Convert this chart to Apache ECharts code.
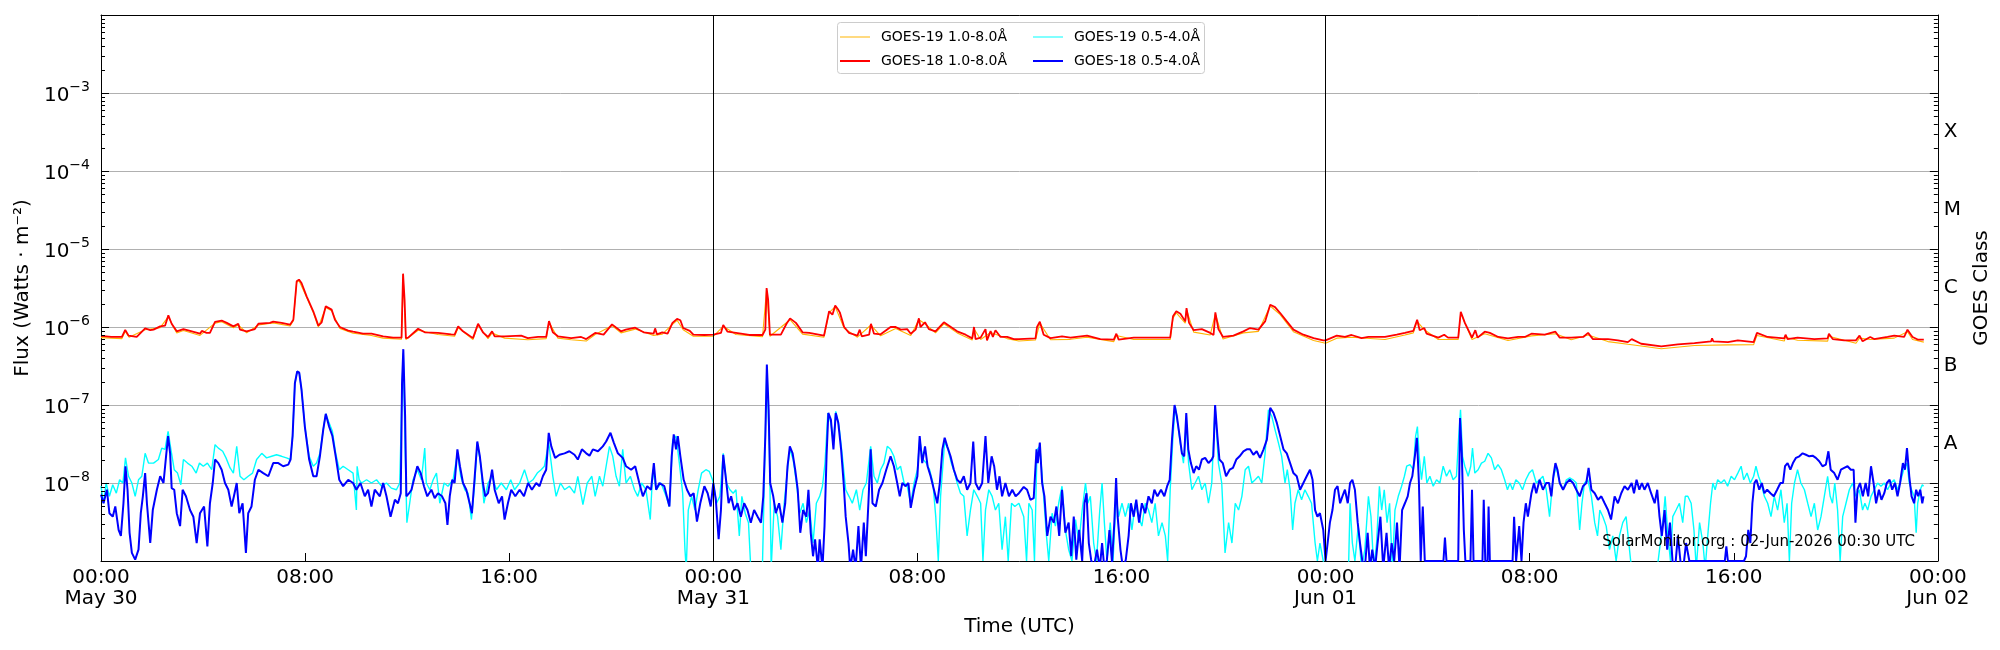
<!DOCTYPE html>
<html>
<head>
<meta charset="utf-8">
<script src="https://cdn.jsdelivr.net/npm/echarts@6/dist/echarts.min.js"></script>
<style>
html,body{margin:0;padding:0;background:#fff;}
#chart{width:2000px;height:650px;}
</style>
</head>
<body>
<div id="chart"></div>
<script>
// hours since 00:00 May 30 (UTC), flux in W m^-2
var dayLabels = ['May 30', 'May 31', 'Jun 01', 'Jun 02'];
var classLabels = ['A', 'B', 'C', 'M', 'X'];
var dayLines = [24, 48];

var goes19Long = [
[0,7.3e-7],[0.82,7.1e-7],[0.95,8.8e-7],[1.1,7.4e-7],[1.73,9.2e-7],[2.32,9.8e-7],[2.64,1.36e-6],[2.8,1.05e-6],[2.97,8.4e-7],[3.23,9.0e-7],[3.88,7.8e-7],[4.47,1.12e-6],[4.73,1.17e-6],[5.19,9.8e-7],[5.38,1.06e-6],[5.71,8.4e-7],[6.17,1.06e-6],[6.75,1.13e-6],[7.41,1.03e-6],[7.54,1.2e-6],[7.67,3.75e-6],[7.76,3.95e-6],[8.06,2.4e-6],[8.32,1.53e-6],[8.52,1.0e-6],[8.81,1.78e-6],[9.04,1.62e-6],[9.36,9.6e-7],[9.88,8.3e-7],[10.6,7.8e-7],[11.06,7.2e-7],[11.78,6.95e-7],[11.84,4.7e-6],[11.95,6.9e-7],
[12.43,9.1e-7],[13.21,8.0e-7],[13.86,7.6e-7],[14.0,9.8e-7],[14.58,6.9e-7],[14.78,1.06e-6],[15.17,7.1e-7],[15.33,8.4e-7],[15.82,7.2e-7],[16.73,6.85e-7],[17.45,7.1e-7],[17.56,1.15e-6],[17.91,7.2e-7],[18.43,6.85e-7],[19.02,6.6e-7],[19.37,8.0e-7],[20.03,1.04e-6],[20.38,8.4e-7],[20.94,9.4e-7],[21.66,7.8e-7],[22.0,8.1e-7],[22.4,1.08e-6],[22.58,1.22e-6],[22.82,9.2e-7],[23.22,7.6e-7],
[24.0,7.6e-7],[24.39,1.02e-6],[24.89,8.0e-7],[25.93,7.5e-7],[26.09,3.05e-6],[26.22,7.6e-7],[27.01,1.24e-6],[27.5,8.1e-7],[28.34,7.4e-7],[28.54,1.53e-6],[28.78,1.82e-6],[29.13,9.6e-7],[29.65,7.4e-7],[30.18,1.06e-6],[30.56,7.7e-7],[31.15,9.6e-7],[31.74,7.8e-7],[32.06,1.24e-6],[32.3,1.1e-6],[32.71,8.4e-7],[33.04,1.1e-6],[33.56,8.4e-7],[34.15,6.8e-7],[34.22,9.5e-7],[34.48,6.9e-7],[34.87,8.5e-7],[35.52,7.1e-7],
[35.98,6.6e-7],[36.63,6.8e-7],[36.8,1.12e-6],[37.22,6.85e-7],[38.0,6.95e-7],[38.65,7.4e-7],[39.7,6.5e-7],[39.8,7.8e-7],[40.48,6.9e-7],[41.91,6.9e-7],[42.02,1.3e-6],[42.15,1.52e-6],[42.5,1.12e-6],[42.55,1.68e-6],[42.83,8.6e-7],[43.48,7.9e-7],[43.68,1.47e-6],[43.98,7.0e-7],[44.78,8.4e-7],[45.37,8.8e-7],[45.83,1.86e-6],[46.22,1.44e-6],[46.74,8.7e-7],[47.53,6.7e-7],
[48.0,6.2e-7],[48.44,7.2e-7],[49.02,7.4e-7],[50.33,6.9e-7],[51.11,7.9e-7],[51.44,8.4e-7],[51.59,1.18e-6],[51.87,9.2e-7],[52.42,6.9e-7],[53.2,6.9e-7],[53.3,1.5e-6],[53.74,6.9e-7],[54.24,8.2e-7],[55.15,6.7e-7],[56.07,7.7e-7],[57.01,8.2e-7],[57.63,6.85e-7],[58.29,7.9e-7],[59.07,6.5e-7],[59.85,6.0e-7],
[60.37,5.7e-7],[61.16,5.25e-7],[62.46,5.8e-7],[63.77,5.9e-7],[64.78,5.95e-7],[64.91,7.8e-7],[65.98,6.6e-7],[66.03,7.4e-7],[66.5,6.75e-7],[67.68,6.6e-7],[67.73,7.6e-7],[68.79,6.2e-7],[68.93,7.2e-7],[69.35,6.9e-7],[70.29,7.2e-7],[70.81,8.7e-7],[71.01,6.9e-7],[71.45,6.4e-7]
];

var goes18Long = [
[0,7.7e-7],[0.4,7.45e-7],[0.82,7.45e-7],[0.95,9.2e-7],[1.08,7.75e-7],[1.4,7.45e-7],[1.73,9.6e-7],[1.93,9.1e-7],[2.06,9.25e-7],[2.32,1.02e-6],[2.51,1.04e-6],[2.64,1.41e-6],[2.77,1.1e-6],[2.97,8.8e-7],[3.23,9.4e-7],[3.49,8.9e-7],[3.88,8.2e-7],[3.95,8.9e-7],[4.14,8.4e-7],[4.27,8.4e-7],[4.47,1.16e-6],[4.73,1.21e-6],[4.93,1.13e-6],[5.19,1.02e-6],[5.38,1.1e-6],[5.45,9.25e-7],[5.71,8.8e-7],[6.03,9.4e-7],[6.17,1.1e-6],[6.62,1.13e-6],[6.75,1.17e-6],[7.08,1.13e-6],[7.41,1.07e-6],[7.54,1.24e-6],[7.67,3.85e-6],[7.76,4.05e-6],[7.86,3.66e-6],[8.06,2.47e-6],[8.32,1.59e-6],[8.52,1.04e-6],[8.65,1.15e-6],[8.81,1.84e-6],[9.04,1.67e-6],[9.17,1.24e-6],[9.36,1.0e-6],[9.69,8.97e-7],[9.88,8.7e-7],[10.27,8.2e-7],[10.6,8.2e-7],[10.67,7.9e-7],[11.06,7.6e-7],[11.45,7.3e-7],[11.78,7.3e-7],[11.84,4.83e-6],[11.9,2.24e-6],[11.95,7.2e-7],[12.04,7.3e-7],
[12.43,9.5e-7],[12.69,8.55e-7],[13.21,8.4e-7],[13.73,8.05e-7],[13.86,7.97e-7],[14.0,1.02e-6],[14.19,8.8e-7],[14.58,7.2e-7],[14.78,1.1e-6],[14.97,8.55e-7],[15.17,7.45e-7],[15.33,8.8e-7],[15.43,7.6e-7],[15.82,7.6e-7],[16.47,7.75e-7],[16.73,7.2e-7],[17.13,7.45e-7],[17.45,7.45e-7],[17.56,1.19e-6],[17.71,8.55e-7],[17.91,7.6e-7],[18.43,7.2e-7],[18.82,7.45e-7],[19.02,7.0e-7],[19.37,8.4e-7],[19.7,7.97e-7],[20.03,1.08e-6],[20.38,8.8e-7],[20.57,9.25e-7],[20.94,9.8e-7],[21.27,8.55e-7],[21.66,8.2e-7],[21.72,9.6e-7],[21.79,8.05e-7],[22.0,8.55e-7],[22.21,8.2e-7],[22.4,1.13e-6],[22.58,1.27e-6],[22.71,1.22e-6],[22.82,9.7e-7],[23.08,8.9e-7],[23.22,7.97e-7],[23.65,7.9e-7],[24.0,7.97e-7],
[24.3,8.4e-7],[24.39,1.06e-6],[24.56,8.7e-7],[24.89,8.4e-7],[25.41,7.9e-7],[25.93,7.9e-7],[26.04,9.25e-7],[26.09,3.16e-6],[26.15,2.24e-6],[26.22,7.97e-7],[26.65,7.97e-7],[26.87,1.1e-6],[27.01,1.29e-6],[27.24,1.13e-6],[27.5,8.55e-7],[27.76,8.4e-7],[28.34,7.75e-7],[28.54,1.59e-6],[28.67,1.44e-6],[28.78,1.88e-6],[28.88,1.7e-6],[28.96,1.54e-6],[29.13,1.0e-6],[29.32,8.4e-7],[29.65,7.75e-7],[29.74,9.25e-7],[29.82,7.6e-7],[30.11,7.97e-7],[30.18,1.1e-6],[30.3,8.2e-7],[30.56,8.05e-7],[30.95,1.0e-6],[31.15,1.0e-6],[31.35,9.25e-7],[31.6,9.4e-7],[31.74,8.2e-7],[31.93,9.25e-7],[32.06,1.29e-6],[32.12,1.0e-6],[32.3,1.15e-6],[32.45,9.4e-7],[32.71,8.8e-7],[33.04,1.15e-6],[33.24,1.04e-6],[33.56,8.8e-7],[33.89,7.97e-7],[34.15,7.15e-7],[34.22,1.0e-6],[34.28,7.0e-7],[34.48,7.3e-7],[34.67,9.4e-7],[34.73,6.75e-7],[34.87,8.9e-7],[34.96,7.45e-7],[35.06,9.1e-7],[35.26,7.45e-7],[35.52,7.45e-7],[35.78,7.0e-7],[35.98,7.0e-7],
[36.63,7.15e-7],[36.69,1.0e-6],[36.8,1.17e-6],[36.95,7.97e-7],[37.22,7.2e-7],[37.67,7.6e-7],[38.0,7.3e-7],[38.65,7.75e-7],[39.17,7.0e-7],[39.7,6.9e-7],[39.8,8.2e-7],[39.89,6.9e-7],[40.48,7.3e-7],[41.13,7.3e-7],[41.91,7.3e-7],[42.02,1.37e-6],[42.15,1.59e-6],[42.31,1.48e-6],[42.5,1.18e-6],[42.55,1.75e-6],[42.65,1.13e-6],[42.83,9.1e-7],[43.15,9.4e-7],[43.48,8.4e-7],[43.61,7.9e-7],[43.68,1.54e-6],[43.8,9.4e-7],[43.98,7.45e-7],[44.39,7.75e-7],[44.78,8.8e-7],[45.04,9.7e-7],[45.37,9.25e-7],[45.63,1.18e-6],[45.83,1.93e-6],[46.02,1.8e-6],[46.22,1.51e-6],[46.48,1.18e-6],[46.74,9.25e-7],[47.13,7.97e-7],[47.53,7.2e-7],[47.91,6.75e-7],
[48.0,6.75e-7],[48.44,7.75e-7],[48.76,7.45e-7],[49.02,7.9e-7],[49.41,7.2e-7],[49.68,7.45e-7],[50.33,7.45e-7],[50.79,7.97e-7],[51.11,8.4e-7],[51.44,8.9e-7],[51.59,1.24e-6],[51.69,9.1e-7],[51.87,9.7e-7],[51.96,8.2e-7],[52.42,7.3e-7],[52.65,7.97e-7],[52.8,7.3e-7],[53.2,7.3e-7],[53.3,1.57e-6],[53.46,1.13e-6],[53.74,7.3e-7],[53.87,9.1e-7],[53.96,7.3e-7],[54.24,8.7e-7],[54.44,8.4e-7],[54.77,7.45e-7],[55.15,7.15e-7],[55.55,7.45e-7],[55.81,7.45e-7],[56.07,8.2e-7],[56.59,7.97e-7],[57.01,8.7e-7],[57.18,7.3e-7],[57.63,7.3e-7],[58.1,7.45e-7],[58.29,8.4e-7],[58.48,7.0e-7],[59.07,7.0e-7],[59.46,6.75e-7],[59.85,6.4e-7],
[60.0,7.0e-7],[60.37,6.1e-7],[61.16,5.65e-7],[61.81,6.0e-7],[62.46,6.2e-7],[63.11,6.55e-7],[63.15,7.15e-7],[63.2,6.55e-7],[63.77,6.4e-7],[64.16,6.75e-7],[64.78,6.4e-7],[64.91,8.4e-7],[65.33,7.45e-7],[65.98,7.15e-7],[66.03,7.97e-7],[66.11,7.0e-7],[66.5,7.3e-7],[67.16,7.0e-7],[67.68,7.15e-7],[67.73,8.2e-7],[67.88,7.0e-7],[68.33,6.75e-7],[68.79,6.75e-7],[68.93,7.75e-7],[69.05,6.55e-7],[69.35,7.45e-7],[69.5,7.0e-7],[70.03,7.45e-7],[70.29,7.75e-7],[70.68,7.45e-7],[70.81,9.25e-7],[71.01,7.45e-7],[71.21,6.9e-7],[71.45,6.9e-7]
];

var goes19Short = [
[0.0,9.1e-9],[0.1,5.5e-9],[0.2,1.0e-8],[0.33,6.75e-9],[0.46,9.5e-9],[0.6,7.4e-9],[0.73,1.1e-8],[0.86,1.0e-8],[0.96,2.1e-8],[1.08,1.22e-8],[1.21,1.0e-8],[1.34,6.75e-9],[1.47,1.1e-8],[1.6,1.22e-8],[1.73,2.4e-8],[1.86,1.8e-8],[2.06,1.8e-8],[2.25,2.0e-8],[2.38,2.8e-8],[2.51,2.7e-8],[2.63,4.6e-8],[2.74,2.7e-8],[2.87,1.48e-8],[3.0,1.34e-8],[3.13,9.5e-9],[3.23,2.0e-8],[3.39,1.8e-8],[3.56,1.64e-8],[3.73,1.34e-8],[3.86,1.8e-8],[4.01,1.64e-8],[4.17,1.8e-8],[4.34,1.48e-8],[4.47,3.1e-8],[4.6,2.8e-8],[4.77,2.55e-8],[4.9,2.1e-8],[5.06,1.56e-8],[5.19,1.34e-8],[5.32,2.95e-8],[5.45,1.22e-8],[5.6,1.1e-8],[5.77,1.22e-8],[5.94,1.34e-8],[6.1,2.0e-8],[6.3,2.4e-8],[6.49,2.1e-8],[6.69,2.2e-8],[6.88,2.3e-8],[7.08,2.2e-8],[7.27,2.1e-8],[7.43,2.0e-8],[7.51,4.0e-8],[7.6,1.9e-7],[7.69,2.7e-7],[7.77,2.6e-7],[7.86,1.57e-7],[7.99,5.3e-8],[8.16,2.2e-8],[8.32,1.64e-8],[8.45,1.8e-8],[8.58,2.4e-8],[8.71,4.8e-8],[8.81,7.7e-8],[8.94,5.9e-8],[9.07,4.6e-8],[9.2,2.4e-8],[9.34,1.48e-8],[9.49,1.64e-8],[9.69,1.48e-8],[9.88,1.34e-8],[10.01,4.5e-9],[10.04,1.64e-8],[10.12,1.1e-8],[10.21,1.0e-8],[10.41,1.1e-8],[10.6,1.0e-8],[10.8,1.1e-8],[11.0,9.1e-9],[11.19,1.0e-8],[11.38,8.6e-9],[11.58,8.2e-9],[11.71,1.0e-8],[11.8,1.6e-7],[11.85,4.6e-7],[11.92,2.7e-8],[11.99,3.1e-9],[12.1,5.5e-9],
[12.23,1.1e-8],[12.4,1.48e-8],[12.56,1.1e-8],[12.69,2.8e-8],[12.75,1.0e-8],[12.89,8.2e-9],[13.02,1.1e-8],[13.15,1.34e-8],[13.28,5.5e-9],[13.45,1.0e-8],[13.6,9.1e-9],[13.8,1.1e-8],[13.97,2.4e-8],[14.1,1.22e-8],[14.26,8.2e-9],[14.39,7.4e-9],[14.52,3.4e-9],[14.65,1.0e-8],[14.75,3.3e-8],[14.88,1.8e-8],[15.01,5.5e-9],[15.17,1.0e-8],[15.33,1.22e-8],[15.5,8.2e-9],[15.69,1.0e-8],[15.89,8.2e-9],[16.06,1.1e-8],[16.21,8.2e-9],[16.41,1.0e-8],[16.6,1.48e-8],[16.76,1.0e-8],[16.93,1.1e-8],[17.1,1.34e-8],[17.25,1.48e-8],[17.38,1.64e-8],[17.55,3.3e-8],[17.71,1.22e-8],[17.84,6.75e-9],[18.01,1.0e-8],[18.17,8.2e-9],[18.36,9.1e-9],[18.56,7.4e-9],[18.69,1.22e-8],[18.89,5.3e-9],[19.06,1.0e-8],[19.24,1.22e-8],[19.37,6.75e-9],[19.54,1.22e-8],[19.67,9.1e-9],[19.8,1.64e-8],[19.93,2.95e-8],[20.06,2.2e-8],[20.19,1.22e-8],[20.32,9.1e-9],[20.45,2.7e-8],[20.58,1.0e-8],[20.75,1.22e-8],[20.91,8.2e-9],[21.04,6.75e-9],[21.19,1.0e-8],[21.36,8.2e-9],[21.53,3.4e-9],[21.63,1.48e-8],[21.76,8.2e-9],[21.95,1.0e-8],[22.15,6.75e-9],[22.28,5.0e-9],[22.41,3.6e-8],[22.54,4.0e-8],[22.67,1.8e-8],[22.8,7.4e-9],[22.89,1.4e-9],[22.94,8e-10],[23.02,4.5e-9],[23.15,6.75e-9],[23.28,4.5e-9],[23.41,8.2e-9],[23.54,1.34e-8],[23.71,1.48e-8],[23.84,1.41e-8],[23.97,1.1e-8],
[24.0,1.0e-8],[24.13,5.5e-9],[24.26,6.75e-9],[24.39,2.4e-8],[24.52,1.0e-8],[24.65,8.2e-9],[24.78,7.4e-9],[24.89,8.2e-9],[25.02,2.1e-9],[25.12,6.75e-9],[25.25,4.1e-9],[25.38,3.1e-9],[25.47,8e-10],[25.6,9.5e-10],[25.8,8e-10],[25.93,9.5e-10],[26.04,4.0e-8],[26.1,3.1e-7],[26.2,2.7e-8],[26.27,8e-10],[26.39,5.5e-9],[26.52,3.7e-9],[26.65,1.4e-9],[26.78,5.5e-9],[26.91,1.48e-8],[27.0,2.7e-8],[27.13,2.0e-8],[27.26,1.0e-8],[27.39,4.1e-9],[27.52,5.5e-9],[27.65,3.1e-9],[27.78,4.5e-9],[27.91,1.7e-9],[28.04,5.5e-9],[28.17,6.75e-9],[28.28,9.1e-9],[28.38,1.8e-8],[28.49,7.9e-8],[28.61,5.9e-8],[28.71,3.3e-8],[28.8,8.3e-8],[28.93,5.3e-8],[29.06,2.2e-8],[29.19,8.2e-9],[29.32,6.75e-9],[29.45,5.5e-9],[29.61,8.2e-9],[29.74,4.5e-9],[29.87,8.2e-9],[30.0,1.0e-8],[30.17,2.95e-8],[30.3,1.22e-8],[30.43,1.0e-8],[30.56,1.48e-8],[30.69,1.8e-8],[30.82,2.95e-8],[30.95,2.7e-8],[31.08,2.2e-8],[31.21,1.48e-8],[31.34,1.64e-8],[31.48,1.0e-8],[31.6,9.1e-9],[31.74,5.5e-9],[31.87,1.0e-8],[32.0,1.48e-8],[32.09,3.6e-8],[32.22,2.0e-8],[32.35,1.8e-8],[32.48,1.48e-8],[32.61,1.0e-8],[32.72,3.7e-9],[32.82,1.0e-9],[32.91,6.75e-9],[33.07,3.4e-8],[33.2,2.7e-8],[33.33,1.8e-8],[33.46,1.34e-8],[33.56,1.0e-8],[33.69,7.4e-9],[33.82,6.75e-9],[33.95,2.1e-9],[34.08,4.5e-9],[34.21,8.2e-9],[34.35,6.75e-9],[34.48,5.5e-9],[34.57,1.0e-9],[34.67,4.5e-9],[34.8,8.2e-9],[34.93,6.75e-9],[35.06,4.5e-9],[35.19,5.5e-9],[35.32,1.4e-9],[35.45,3.7e-9],[35.56,1.0e-9],[35.69,5.5e-9],[35.82,5.0e-9],[35.98,5.5e-9],
[36.04,5.5e-9],[36.17,3.7e-9],[36.28,1.0e-9],[36.37,5.5e-9],[36.5,4.5e-9],[36.59,1.0e-9],[36.69,2.7e-8],[36.8,2.95e-8],[36.93,8.2e-9],[37.06,2.1e-9],[37.15,1.0e-9],[37.28,4.1e-9],[37.41,2.8e-9],[37.54,5.5e-9],[37.67,9.1e-9],[37.8,2.5e-9],[37.93,1.4e-9],[38.06,1.0e-9],[38.2,3.4e-9],[38.33,1.7e-9],[38.46,4.5e-9],[38.59,1.0e-8],[38.68,5.5e-9],[38.78,6.75e-9],[38.91,1.7e-9],[39.02,1.0e-9],[39.15,4.5e-9],[39.24,1.0e-8],[39.33,3.1e-9],[39.43,1.0e-9],[39.56,3.1e-9],[39.67,1.0e-9],[39.79,6.75e-9],[39.89,3.7e-9],[40.02,5.5e-9],[40.15,3.7e-9],[40.28,5.5e-9],[40.41,2.5e-9],[40.54,5.5e-9],[40.67,3.7e-9],[40.8,2.8e-9],[40.93,5.5e-9],[41.06,4.5e-9],[41.19,3.1e-9],[41.32,5.5e-9],[41.45,2.1e-9],[41.59,3.1e-9],[41.72,2.1e-9],[41.81,1.0e-9],[41.91,8.2e-9],[42.02,4.0e-8],[42.11,9.6e-8],[42.2,5.9e-8],[42.3,3.3e-8],[42.43,1.8e-8],[42.54,5.9e-8],[42.63,1.8e-8],[42.76,8.2e-9],[42.89,1.0e-8],[43.02,1.22e-8],[43.15,8.2e-9],[43.28,1.0e-8],[43.41,5.5e-9],[43.54,1.0e-8],[43.67,9.6e-8],[43.8,1.8e-8],[43.93,1.0e-8],[44.06,1.27e-9],[44.2,3.1e-9],[44.33,1.7e-9],[44.46,5.5e-9],[44.59,4.5e-9],[44.72,6.75e-9],[44.85,1.48e-8],[44.98,1.64e-8],[45.11,1.0e-8],[45.24,1.1e-8],[45.37,1.22e-8],[45.5,1.0e-8],[45.63,2.4e-8],[45.76,8.7e-8],[45.89,7.2e-8],[46.02,4.8e-8],[46.15,3.3e-8],[46.28,2.2e-8],[46.41,1.0e-8],[46.5,1.48e-8],[46.61,8.2e-9],[46.71,2.5e-9],[46.8,5.5e-9],[46.93,8.2e-9],[47.06,6.1e-9],[47.19,8.2e-9],[47.32,6.75e-9],[47.45,5.5e-9],[47.59,1.7e-9],[47.68,1.0e-9],[47.78,1.7e-9],[47.91,1.0e-9],
[48.0,8e-10],[48.9,8e-10],[48.96,5.5e-9],[49.05,1.7e-9],[49.15,1.0e-9],[49.28,2.8e-9],[49.41,8e-10],[49.54,1.4e-9],[49.68,6.75e-9],[49.78,3.7e-9],[49.89,8e-10],[50.0,1.7e-9],[50.11,9.1e-9],[50.2,4.5e-9],[50.3,8.2e-9],[50.41,3.1e-9],[50.51,5.5e-9],[50.62,8e-10],[50.72,4.5e-9],[50.85,6.75e-9],[50.98,9.1e-9],[51.09,1.22e-8],[51.18,1.64e-8],[51.31,1.72e-8],[51.44,1.48e-8],[51.53,4.0e-8],[51.6,5.3e-8],[51.67,2.2e-8],[51.76,1.1e-8],[51.87,2.2e-8],[51.97,1.0e-8],[52.09,1.22e-8],[52.22,9.1e-9],[52.35,1.1e-8],[52.48,1.0e-8],[52.61,1.64e-8],[52.74,1.22e-8],[52.87,1.48e-8],[53.0,1.1e-8],[53.13,1.22e-8],[53.22,4.0e-8],[53.29,8.7e-8],[53.37,2.2e-8],[53.46,1.64e-8],[53.59,1.22e-8],[53.69,1.64e-8],[53.76,2.8e-8],[53.85,1.34e-8],[53.98,1.48e-8],[54.11,1.8e-8],[54.24,1.9e-8],[54.37,2.4e-8],[54.5,2.1e-8],[54.63,1.48e-8],[54.76,1.72e-8],[54.89,1.48e-8],[55.02,1.1e-8],[55.13,8.2e-9],[55.23,1.0e-8],[55.33,8.2e-9],[55.46,1.1e-8],[55.59,1.0e-8],[55.72,8.2e-9],[55.85,1.1e-8],[55.98,1.34e-8],[56.11,1.48e-8],[56.26,1.0e-8],[56.39,1.1e-8],[56.52,1.22e-8],[56.65,8.2e-9],[56.78,3.7e-9],[56.91,1.1e-8],[57.04,1.64e-8],[57.18,1.0e-8],[57.31,8.2e-9],[57.44,1.1e-8],[57.57,1.16e-8],[57.7,1.1e-8],[57.83,1.0e-8],[57.96,2.5e-9],[58.05,5.5e-9],[58.15,1.0e-8],[58.28,1.1e-8],[58.42,6.75e-9],[58.55,3.1e-9],[58.66,2.1e-9],[58.75,4.5e-9],[58.87,3.7e-9],[59.0,2.8e-9],[59.13,1.4e-9],[59.26,2.1e-9],[59.39,1.0e-9],[59.52,2.1e-9],[59.65,3.1e-9],[59.78,3.7e-9],
[59.96,1.0e-9],[60.05,8e-10],[61.0,8e-10],[61.09,1.4e-9],[61.22,3.1e-9],[61.31,6.75e-9],[61.42,2.1e-9],[61.52,1.0e-9],[61.61,3.7e-9],[61.74,4.5e-9],[61.87,5.5e-9],[62.0,3.1e-9],[62.1,6.75e-9],[62.2,6.75e-9],[62.33,5.5e-9],[62.44,2.5e-9],[62.53,8e-10],[62.66,3.1e-9],[62.79,1.7e-9],[62.88,8e-10],[62.98,2.1e-9],[63.09,5.5e-9],[63.18,1.0e-8],[63.27,8.2e-9],[63.37,1.1e-8],[63.5,1.0e-8],[63.63,1.1e-8],[63.76,9.1e-9],[63.9,1.22e-8],[64.03,1.1e-8],[64.16,1.34e-8],[64.29,1.64e-8],[64.39,1.1e-8],[64.52,1.34e-8],[64.65,1.0e-8],[64.78,1.22e-8],[64.87,1.64e-8],[64.97,1.22e-8],[65.07,1.0e-8],[65.2,6.75e-9],[65.33,5.5e-9],[65.46,3.7e-9],[65.59,6.75e-9],[65.72,4.5e-9],[65.85,8.2e-9],[65.98,3.1e-9],[66.09,5.5e-9],[66.18,1.0e-9],[66.27,5.5e-9],[66.38,1.0e-8],[66.5,1.48e-8],[66.63,1.0e-8],[66.77,8.2e-9],[66.9,5.5e-9],[67.03,3.7e-9],[67.16,5.5e-9],[67.29,2.5e-9],[67.42,3.7e-9],[67.55,6.75e-9],[67.68,1.22e-8],[67.78,6.75e-9],[67.87,5.5e-9],[67.96,1.0e-8],[68.07,4.5e-9],[68.17,1.0e-9],[68.27,3.7e-9],[68.4,5.5e-9],[68.53,8.2e-9],[68.66,1.0e-8],[68.79,6.75e-9],[68.92,8.2e-9],[69.05,4.5e-9],[69.14,5.5e-9],[69.25,4.5e-9],[69.38,6.75e-9],[69.51,8.2e-9],[69.64,1.0e-8],[69.77,9.1e-9],[69.9,1.0e-8],[70.03,8.2e-9],[70.16,1.0e-8],[70.29,1.1e-8],[70.42,8.2e-9],[70.52,1.0e-8],[70.66,1.48e-8],[70.79,1.8e-8],[70.88,1.0e-8],[70.97,8.2e-9],[71.07,6.75e-9],[71.15,2.3e-9],[71.21,5.5e-9],[71.31,8.2e-9],[71.39,9.5e-9],[71.44,9.1e-9]
];

var goes18Short = [
[0.0,7.1e-9],[0.1,5.5e-9],[0.23,8.2e-9],[0.33,4.1e-9],[0.46,3.7e-9],[0.56,5.0e-9],[0.69,2.5e-9],[0.78,2.1e-9],[0.88,5.5e-9],[0.96,1.64e-8],[1.04,8.2e-9],[1.12,2.3e-9],[1.21,1.27e-9],[1.34,1.04e-9],[1.47,1.4e-9],[1.56,4.1e-9],[1.64,6.75e-9],[1.73,1.34e-8],[1.8,5.5e-9],[1.93,1.7e-9],[2.03,4.5e-9],[2.19,8.2e-9],[2.32,1.22e-8],[2.45,1.0e-8],[2.55,2.2e-8],[2.63,4.0e-8],[2.71,2.4e-8],[2.77,8.6e-9],[2.87,8.2e-9],[2.97,4.1e-9],[3.1,2.8e-9],[3.2,8.2e-9],[3.33,6.75e-9],[3.49,4.5e-9],[3.62,3.7e-9],[3.75,1.7e-9],[3.88,4.1e-9],[4.04,5.0e-9],[4.17,1.54e-9],[4.27,5.5e-9],[4.38,1.0e-8],[4.47,2.0e-8],[4.6,1.8e-8],[4.73,1.48e-8],[4.86,1.0e-8],[4.99,8.2e-9],[5.12,5.0e-9],[5.21,6.75e-9],[5.32,1.0e-8],[5.42,4.1e-9],[5.55,5.5e-9],[5.68,1.27e-9],[5.77,4.1e-9],[5.9,5.0e-9],[6.03,1.1e-8],[6.17,1.48e-8],[6.36,1.34e-8],[6.56,1.22e-8],[6.75,1.8e-8],[6.95,1.8e-8],[7.14,1.64e-8],[7.34,1.72e-8],[7.43,2.0e-8],[7.51,4.0e-8],[7.6,1.9e-7],[7.69,2.7e-7],[7.77,2.6e-7],[7.86,1.57e-7],[7.99,5.3e-8],[8.16,2.0e-8],[8.32,1.22e-8],[8.45,1.22e-8],[8.58,2.2e-8],[8.71,4.8e-8],[8.81,7.7e-8],[8.94,5.3e-8],[9.07,4.0e-8],[9.2,2.2e-8],[9.34,1.1e-8],[9.49,9.1e-9],[9.69,1.1e-8],[9.88,1.0e-8],[10.01,8.2e-9],[10.17,1.0e-8],[10.34,6.75e-9],[10.47,8.2e-9],[10.6,5.0e-9],[10.73,8.2e-9],[10.93,6.75e-9],[11.06,1.0e-8],[11.19,6.75e-9],[11.35,3.7e-9],[11.52,6.1e-9],[11.64,5.5e-9],[11.75,7.4e-9],[11.8,1.9e-7],[11.85,5.2e-7],[11.92,7.2e-8],[11.97,6.75e-9],[12.08,7.4e-9],
[12.17,8.2e-9],[12.3,1.22e-8],[12.4,1.64e-8],[12.53,1.34e-8],[12.66,9.1e-9],[12.79,6.75e-9],[12.95,8.2e-9],[13.08,6.4e-9],[13.21,7.4e-9],[13.37,6.75e-9],[13.5,5.5e-9],[13.58,2.9e-9],[13.67,6.75e-9],[13.77,1.1e-8],[13.86,1.0e-8],[13.97,2.7e-8],[14.07,1.64e-8],[14.19,1.0e-8],[14.32,8.2e-9],[14.45,5.5e-9],[14.54,4.1e-9],[14.65,1.22e-8],[14.75,3.4e-8],[14.85,2.2e-8],[14.97,1.0e-8],[15.06,6.75e-9],[15.17,7.4e-9],[15.33,1.48e-8],[15.43,8.2e-9],[15.59,5.5e-9],[15.72,6.75e-9],[15.82,3.4e-9],[15.95,5.5e-9],[16.08,8.2e-9],[16.24,6.75e-9],[16.41,8.2e-9],[16.58,6.75e-9],[16.74,1.0e-8],[16.89,8.2e-9],[17.06,1.0e-8],[17.19,9.1e-9],[17.32,1.22e-8],[17.45,1.48e-8],[17.55,4.4e-8],[17.65,2.95e-8],[17.8,2.1e-8],[17.97,2.3e-8],[18.17,2.4e-8],[18.36,2.55e-8],[18.56,2.3e-8],[18.69,2.0e-8],[18.85,2.7e-8],[19.02,2.4e-8],[19.15,2.24e-8],[19.28,2.7e-8],[19.48,2.55e-8],[19.67,2.95e-8],[19.8,3.4e-8],[19.97,4.4e-8],[20.1,3.3e-8],[20.26,2.4e-8],[20.45,2.1e-8],[20.58,1.64e-8],[20.78,1.48e-8],[20.94,1.64e-8],[21.1,1.0e-8],[21.24,6.75e-9],[21.41,9.1e-9],[21.56,8.2e-9],[21.67,1.8e-8],[21.76,8.2e-9],[21.89,1.0e-8],[22.08,9.1e-9],[22.28,5.0e-9],[22.37,2.2e-8],[22.45,4.2e-8],[22.54,2.7e-8],[22.61,4.0e-8],[22.71,2.2e-8],[22.84,1.1e-8],[22.97,8.2e-9],[23.1,6.75e-9],[23.23,7.4e-9],[23.36,3.2e-9],[23.49,5.5e-9],[23.65,9.1e-9],[23.78,7.4e-9],[23.9,5.0e-9],[24.0,1.0e-8],
[24.1,6.1e-9],[24.21,1.9e-9],[24.3,4.5e-9],[24.39,2.3e-8],[24.5,1.1e-8],[24.6,5.5e-9],[24.7,6.75e-9],[24.82,4.5e-9],[24.95,5.5e-9],[25.08,3.7e-9],[25.21,5.5e-9],[25.34,4.5e-9],[25.47,3.1e-9],[25.6,4.5e-9],[25.74,3.7e-9],[25.87,3.1e-9],[25.96,6.75e-9],[26.04,4.0e-8],[26.1,3.3e-7],[26.17,8.7e-8],[26.23,1.0e-8],[26.35,6.75e-9],[26.45,4.1e-9],[26.58,5.5e-9],[26.71,3.1e-9],[26.82,5.5e-9],[26.91,1.64e-8],[27.0,2.95e-8],[27.11,2.4e-8],[27.21,1.48e-8],[27.31,8.2e-9],[27.41,2.3e-9],[27.52,4.5e-9],[27.65,3.7e-9],[27.73,8.2e-9],[27.82,2.3e-9],[27.91,1.15e-9],[27.99,1.9e-9],[28.1,8e-10],[28.17,1.9e-9],[28.28,8e-10],[28.36,2.8e-9],[28.44,2.2e-8],[28.51,7.9e-8],[28.61,6.5e-8],[28.71,2.7e-8],[28.8,7.9e-8],[28.9,5.9e-8],[29.01,2.7e-8],[29.11,1.0e-8],[29.19,3.7e-9],[29.3,1.7e-9],[29.37,8e-10],[29.48,1.4e-9],[29.58,8e-10],[29.69,2.8e-9],[29.79,8e-10],[29.9,3.1e-9],[29.98,1.15e-9],[30.08,5.5e-9],[30.17,2.7e-8],[30.24,5.5e-9],[30.37,5.0e-9],[30.5,8.2e-9],[30.63,1.0e-8],[30.78,1.48e-8],[30.95,2.2e-8],[31.08,1.64e-8],[31.21,1.0e-8],[31.31,6.75e-9],[31.41,1.0e-8],[31.54,9.1e-9],[31.65,1.0e-8],[31.74,4.8e-9],[31.87,8.2e-9],[32.0,1.22e-8],[32.09,4.0e-8],[32.19,1.8e-8],[32.3,2.95e-8],[32.4,1.64e-8],[32.52,1.22e-8],[32.65,8.2e-9],[32.78,5.5e-9],[32.88,1.0e-8],[32.98,2.7e-8],[33.07,3.8e-8],[33.17,2.95e-8],[33.3,2.2e-8],[33.43,1.48e-8],[33.56,1.1e-8],[33.69,1.0e-8],[33.82,1.22e-8],[33.95,8.2e-9],[34.08,1.0e-8],[34.19,3.4e-8],[34.28,1.0e-8],[34.41,8.2e-9],[34.54,1.0e-8],[34.67,4.0e-8],[34.78,1.0e-8],[34.91,2.2e-8],[35.01,1.64e-8],[35.12,8.2e-9],[35.22,1.22e-8],[35.32,6.75e-9],[35.45,1.0e-8],[35.59,6.75e-9],[35.72,8.2e-9],[35.85,6.75e-9],[35.98,7.4e-9],
[36.17,8.9e-9],[36.3,8.2e-9],[36.43,6.1e-9],[36.56,6.4e-9],[36.67,2.7e-8],[36.72,1.8e-8],[36.8,3.3e-8],[36.89,1.0e-8],[36.98,6.75e-9],[37.09,2.1e-9],[37.22,3.7e-9],[37.35,3.1e-9],[37.45,5.0e-9],[37.56,2.1e-9],[37.67,8.2e-9],[37.8,2.3e-9],[37.93,3.1e-9],[38.03,1.15e-9],[38.13,3.7e-9],[38.23,1.04e-9],[38.34,2.5e-9],[38.46,1.0e-9],[38.55,5.5e-9],[38.63,7.4e-9],[38.72,1.7e-9],[38.81,1.04e-9],[38.91,8e-10],[39.04,1.4e-9],[39.15,8e-10],[39.24,1.7e-9],[39.33,8e-10],[39.43,1.04e-9],[39.53,2.5e-9],[39.63,9.5e-10],[39.72,3.1e-9],[39.79,1.16e-8],[39.85,3.7e-9],[39.96,1.4e-9],[40.06,8e-10],[40.17,1.04e-9],[40.28,2.1e-9],[40.37,5.5e-9],[40.48,3.7e-9],[40.58,6.1e-9],[40.69,3.1e-9],[40.8,5.5e-9],[40.93,4.1e-9],[41.06,6.75e-9],[41.19,5.5e-9],[41.29,8.2e-9],[41.41,6.75e-9],[41.55,8.2e-9],[41.68,6.75e-9],[41.79,9.1e-9],[41.89,1.1e-8],[41.98,3.6e-8],[42.08,1.0e-7],[42.17,7.2e-8],[42.28,4.0e-8],[42.37,2.4e-8],[42.46,2.2e-8],[42.54,7.9e-8],[42.62,2.7e-8],[42.72,1.8e-8],[42.83,1.34e-8],[42.93,1.64e-8],[43.04,1.48e-8],[43.15,2.0e-8],[43.28,2.1e-8],[43.41,1.8e-8],[43.54,2.0e-8],[43.6,2.2e-8],[43.67,1.0e-7],[43.76,4.0e-8],[43.84,2.0e-8],[43.97,1.8e-8],[44.1,1.22e-8],[44.24,1.48e-8],[44.37,1.56e-8],[44.5,2.0e-8],[44.63,2.2e-8],[44.78,2.55e-8],[44.91,2.7e-8],[45.04,2.7e-8],[45.17,2.3e-8],[45.3,2.55e-8],[45.43,2.1e-8],[45.57,2.7e-8],[45.7,3.6e-8],[45.83,9.2e-8],[45.96,7.9e-8],[46.09,5.9e-8],[46.22,4.0e-8],[46.35,2.7e-8],[46.48,2.4e-8],[46.61,1.8e-8],[46.74,1.34e-8],[46.87,1.22e-8],[47.0,8.2e-9],[47.13,1.0e-8],[47.26,1.22e-8],[47.39,1.48e-8],[47.49,1.1e-8],[47.59,4.5e-9],[47.68,3.7e-9],[47.78,4.1e-9],[47.91,2.5e-9],
[48.0,1.0e-9],[48.08,1.7e-9],[48.17,3.1e-9],[48.27,4.5e-9],[48.37,8.2e-9],[48.47,9.1e-9],[48.57,5.5e-9],[48.66,6.75e-9],[48.76,8.2e-9],[48.87,5.5e-9],[48.96,1.0e-8],[49.05,1.1e-8],[49.15,8.2e-9],[49.26,3.1e-9],[49.35,1.7e-9],[49.44,1.0e-9],[49.54,8e-10],[49.65,2.3e-9],[49.74,8e-10],[49.83,1.4e-9],[49.94,8e-10],[50.04,1.7e-9],[50.15,3.7e-9],[50.26,8e-10],[50.39,2.3e-9],[50.49,8e-10],[50.59,1.7e-9],[50.69,1.0e-9],[50.8,3.1e-9],[50.9,8e-10],[51.0,4.5e-9],[51.11,5.5e-9],[51.22,6.75e-9],[51.31,1.0e-8],[51.4,1.22e-8],[51.5,2.2e-8],[51.58,3.8e-8],[51.66,1.0e-8],[51.73,1.0e-9],[51.81,5.0e-9],[51.89,1.0e-9],[52.0,1.0e-9],[52.62,1.0e-9],[52.68,2.0e-9],[52.74,1.0e-9],[53.2,1.0e-9],[53.27,6.8e-8],[53.34,2.4e-8],[53.42,2.5e-9],[53.48,1.0e-9],[53.68,1.0e-9],[53.74,8.2e-9],[53.8,1.0e-9],[54.15,1.0e-9],[54.2,6.1e-9],[54.26,1.0e-9],[54.35,1.0e-9],[54.39,5.0e-9],[54.44,1.0e-9],[55.33,1.0e-9],[55.39,3.7e-9],[55.47,1.0e-9],[55.59,2.8e-9],[55.68,1.0e-9],[55.76,3.1e-9],[55.85,5.5e-9],[55.93,3.7e-9],[56.07,7.4e-9],[56.17,1.0e-8],[56.26,7.4e-9],[56.39,1.1e-8],[56.52,8.2e-9],[56.65,1.0e-8],[56.76,1.0e-8],[56.85,6.75e-9],[56.93,1.22e-8],[57.01,1.8e-8],[57.09,1.48e-8],[57.18,1.0e-8],[57.31,8.2e-9],[57.44,1.0e-8],[57.57,1.1e-8],[57.7,1.0e-8],[57.83,8.2e-9],[57.96,6.75e-9],[58.09,9.1e-9],[58.22,1.0e-8],[58.31,1.56e-8],[58.42,8.2e-9],[58.55,7.4e-9],[58.68,6.1e-9],[58.81,6.75e-9],[58.94,5.5e-9],[59.07,4.5e-9],[59.19,3.4e-9],[59.33,6.75e-9],[59.46,5.5e-9],[59.59,7.4e-9],[59.72,9.1e-9],[59.85,8.2e-9],
[60.0,1.0e-8],[60.09,7.4e-9],[60.19,1.1e-8],[60.3,8.2e-9],[60.4,1.0e-8],[60.5,8.2e-9],[60.63,1.0e-8],[60.76,7.4e-9],[60.9,5.5e-9],[61.0,8.2e-9],[61.09,3.7e-9],[61.18,2.1e-9],[61.29,4.5e-9],[61.39,1.4e-9],[61.5,3.1e-9],[61.6,1.0e-9],[61.7,8e-10],[61.81,2.1e-9],[61.91,1.0e-9],[62.02,8e-10],[62.13,1.7e-9],[62.26,1.0e-9],[63.65,1.0e-9],[63.71,1.54e-9],[63.77,1.0e-9],[64.4,1.0e-9],[64.48,1.15e-9],[64.57,2.5e-9],[64.65,1.7e-9],[64.73,5.5e-9],[64.81,1.0e-8],[64.89,1.1e-8],[65.0,8.2e-9],[65.1,1.0e-8],[65.2,7.4e-9],[65.31,8.2e-9],[65.44,7.4e-9],[65.57,6.75e-9],[65.7,8.2e-9],[65.83,1.0e-8],[65.93,1.0e-8],[66.01,1.64e-8],[66.11,1.8e-8],[66.22,1.48e-8],[66.32,1.8e-8],[66.44,2.1e-8],[66.57,2.2e-8],[66.7,2.4e-8],[66.83,2.3e-8],[66.96,2.2e-8],[67.09,2.24e-8],[67.22,2.1e-8],[67.35,1.9e-8],[67.48,1.64e-8],[67.61,1.72e-8],[67.71,2.55e-8],[67.8,1.48e-8],[67.94,1.34e-8],[68.07,1.1e-8],[68.2,1.48e-8],[68.33,1.56e-8],[68.46,1.64e-8],[68.59,1.48e-8],[68.7,1.48e-8],[68.77,3.1e-9],[68.85,8.2e-9],[68.95,1.0e-8],[69.06,6.75e-9],[69.17,1.0e-8],[69.27,6.75e-9],[69.38,1.64e-8],[69.48,1.0e-8],[69.58,5.5e-9],[69.69,8.2e-9],[69.79,6.1e-9],[69.9,7.4e-9],[70.0,1.0e-8],[70.11,1.1e-8],[70.21,8.2e-9],[70.32,1.0e-8],[70.42,6.75e-9],[70.52,1.0e-8],[70.63,1.8e-8],[70.71,1.48e-8],[70.79,2.8e-8],[70.88,1.22e-8],[70.97,6.75e-9],[71.07,5.5e-9],[71.15,8.2e-9],[71.23,6.75e-9],[71.31,8.2e-9],[71.39,5.5e-9],[71.44,6.75e-9]
];

var FONT = '"DejaVu Sans", sans-serif';
var X_MIN = 0, X_MAX = 72;
// thin bar icons for the legend, like plain line handles
var THIN_ICON = 'path://M0,0 L30,0 L30,1 L0,1 Z';
var THICK_ICON = 'path://M0,0 L30,0 L30,2 L0,2 Z';

// log-axis tick marks (major at decades, minor at 2..9), drawn inward on both spines
var yTicks = [];
for (var e = -9; e <= -3; e++) {
    for (var m = 1; m <= 9; m++) {
        var tv = m * Math.pow(10, e);
        if (tv > 1e-9 * 1.001 && tv < 1e-2 * 0.999) yTicks.push([X_MIN, tv, m === 1 ? 8 : 4]);
    }
}

var chart = echarts.init(document.getElementById('chart'));

function lineSeries(name, data, color, width) {
    return {
        name: name,
        type: 'line',
        data: data,
        xAxisIndex: 0,
        yAxisIndex: 0,
        showSymbol: false,
        symbol: 'none',
        clip: true,
        lineStyle: {color: color, width: width},
        itemStyle: {color: color},
        emphasis: {disabled: true},
        animation: false
    };
}

var blue = lineSeries('GOES-18 0.5-4.0Å', goes18Short, '#0000ff', 2);
blue.markLine = {
    silent: true,
    symbol: ['none', 'none'],
    label: {show: false},
    lineStyle: {color: '#000', width: 1, type: 'solid'},
    data: dayLines.map(function(h){ return {xAxis: h}; }),
    animation: false
};

function legendBox(left, names) {
    return {
        left: left, top: 30, orient: 'vertical', padding: 0,
        itemWidth: 30, itemHeight: 14, itemGap: 10,
        symbolKeepAspect: true,
        textStyle: {fontSize: 14, fontFamily: FONT, color: '#000', padding: [0, 0, 0, 6]},
        data: [
            {name: names[0], icon: THIN_ICON},
            {name: names[1], icon: THICK_ICON}
        ]
    };
}

var option = {
    backgroundColor: '#fff',
    animation: false,
    textStyle: {fontFamily: FONT, color: '#000'},
    grid: {left: 101, top: 15, width: 1839, height: 546, containLabel: false},
    legend: [
        legendBox(840, ['GOES-19 1.0-8.0Å', 'GOES-18 1.0-8.0Å']),
        legendBox(1033, ['GOES-19 0.5-4.0Å', 'GOES-18 0.5-4.0Å'])
    ],
    xAxis: [{
        type: 'value', min: X_MIN, max: X_MAX, interval: 8, position: 'bottom',
        name: 'Time (UTC)', nameLocation: 'middle', nameGap: 56,
        nameTextStyle: {fontSize: 20, fontFamily: FONT, color: '#000'},
        axisLine: {show: true, onZero: false, lineStyle: {color: '#000', width: 1}},
        axisTick: {show: true, inside: true, length: 8, lineStyle: {color: '#000'}},
        axisLabel: {
            fontSize: 20, fontFamily: FONT, color: '#000', lineHeight: 21, margin: 6,
            showMinLabel: true, showMaxLabel: true,
            formatter: function(v){
                var hr = v % 24;
                var t = (hr < 10 ? '0' : '') + hr + ':00';
                if (hr === 0) return t + '\n' + dayLabels[v / 24];
                return t;
            }
        },
        splitLine: {show: false}
    }, {
        type: 'value', min: X_MIN, max: X_MAX, position: 'top',
        axisLine: {show: true, onZero: false, lineStyle: {color: '#000', width: 1}},
        axisTick: {show: false}, axisLabel: {show: false}, splitLine: {show: false}
    }],
    yAxis: [{
        type: 'log', logBase: 10, min: 1e-9, max: 1e-2, splitNumber: 7, position: 'left',
        name: 'Flux (Watts · m⁻²)', nameLocation: 'middle', nameGap: 64, nameRotate: 90,
        nameTextStyle: {fontSize: 20, fontFamily: FONT, color: '#000'},
        axisLine: {show: true, onZero: false, lineStyle: {color: '#000', width: 1}},
        axisTick: {show: false},
        axisLabel: {
            margin: 11, color: '#000',
            formatter: function(v){
                var ex = Math.round(Math.log(v) / Math.LN10);
                if (ex <= -9 || ex >= -2) return '';
                return '{b|10}{e|−' + (-ex) + '}';
            },
            rich: {
                b: {fontSize: 20, fontFamily: FONT, color: '#000', lineHeight: 26, verticalAlign: 'bottom'},
                e: {fontSize: 14, fontFamily: FONT, color: '#000', lineHeight: 26, verticalAlign: 'top'}
            }
        },
        splitLine: {show: true, lineStyle: {color: '#b0b0b0', width: 1}}
    }, {
        type: 'value', min: 0, max: 7, interval: 0.5, position: 'right',
        name: 'GOES Class', nameLocation: 'middle', nameGap: 24, nameRotate: 90,
        nameTextStyle: {fontSize: 20, fontFamily: FONT, color: '#000'},
        axisLine: {show: true, onZero: false, lineStyle: {color: '#000', width: 1}},
        axisTick: {show: false},
        axisLabel: {
            fontSize: 20, fontFamily: FONT, color: '#000', margin: 6,
            formatter: function(v){
                var i = Math.round(v - 1.5);
                if (Math.abs(v - Math.round(v)) > 0.25 && i >= 0 && i < classLabels.length) return classLabels[i];
                return '';
            }
        },
        splitLine: {show: false}
    }],
    graphic: [{
        type: 'rect', left: 837, top: 22, z: 3,
        shape: {width: 367, height: 51, r: 3},
        style: {fill: 'rgba(255,255,255,0.8)', stroke: '#cccccc', lineWidth: 1}
    }, {
        type: 'text', right: 85, top: 535, z: 5,
        style: {text: 'SolarMonitor.org : 02-Jun-2026 00:30 UTC', font: '15px "DejaVu Sans", sans-serif', fill: '#000'}
    }],
    series: [
        lineSeries('GOES-19 1.0-8.0Å', goes19Long, '#ffb400', 1.1),
        lineSeries('GOES-18 1.0-8.0Å', goes18Long, '#ff0000', 1.8),
        lineSeries('GOES-19 0.5-4.0Å', goes19Short, '#00ffff', 1.4),
        blue,
        {
            type: 'custom',
            name: 'ticks',
            coordinateSystem: 'cartesian2d',
            xAxisIndex: 0, yAxisIndex: 0,
            silent: true, clip: false, z: 10,
            data: yTicks,
            renderItem: function(params, api){
                var v = api.value(1), len = api.value(2);
                var a = api.coord([X_MIN, v]);
                var b = api.coord([X_MAX, v]);
                var y = Math.round(a[1]) + 0.5;
                return {
                    type: 'group',
                    children: [
                        {type: 'line', shape: {x1: a[0], y1: y, x2: a[0] + len, y2: y}, style: {stroke: '#000', lineWidth: 1}},
                        {type: 'line', shape: {x1: b[0] - len, y1: y, x2: b[0], y2: y}, style: {stroke: '#000', lineWidth: 1}}
                    ]
                };
            }
        }
    ]
};

chart.setOption(option);
</script>
</body>
</html>
